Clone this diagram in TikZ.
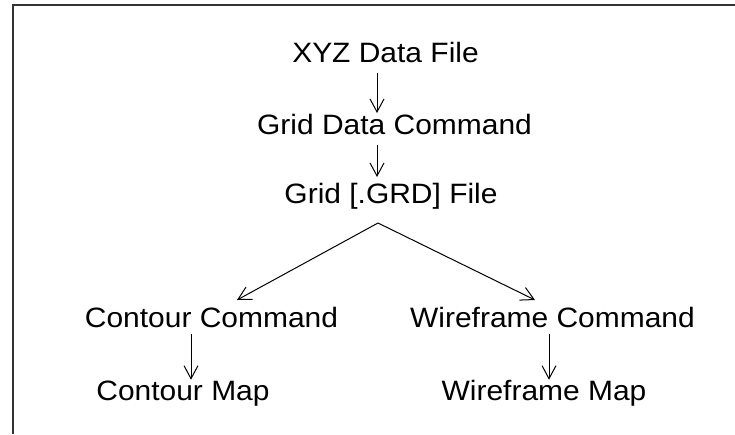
\documentclass[tikz,border=0pt]{standalone}
\usepackage{fontspec}
\setmainfont{Liberation Sans}[FakeStretch=1.07]
\usetikzlibrary{arrows.meta}
\begin{document}
\begin{tikzpicture}[x=1pt,y=-1pt,
  lbl/.style={font=\fontsize{28}{32}\selectfont, anchor=base, inner sep=1pt, outer sep=0pt,
              text height=20pt, text depth=6pt},
  arr/.style={line width=1pt, -{Straight Barb[length=13pt,width=14pt,line width=1pt]}},
  frame/.style={line width=2pt, draw=black!80}]
\useasboundingbox (0,0) rectangle (735,434);
\fill[white] (0,0) rectangle (735,434);
\draw[frame] (13,434) -- (13,5) -- (735,5);

\node[lbl] (xyz) at (385.5,62) {XYZ Data File};
\node[lbl] (gdc) at (394.5,134) {Grid Data Command};
\node[lbl] (grd) at (391,203) {Grid [.GRD] File};
\node[lbl] (cc) at (211.5,327) {Contour Command};
\node[lbl] (wc) at (552.5,327) {Wireframe Command};
\node[lbl] (cm) at (183,400.7) {Contour Map};
\node[lbl] (wm) at (544,400.7) {Wireframe Map};

\coordinate (ax) at (377,0);
\coordinate (cx) at (191,0);
\coordinate (wx) at (549,0);
\coordinate (split) at (378,223);
\coordinate (cend) at (237,300);
\coordinate (wend) at (535,300);

\draw[arr, shorten <=4pt] (xyz.south -| ax) -- (gdc.north -| ax);
\draw[arr, shorten <=4pt, shorten >=5pt] (gdc.south -| ax) -- (grd.north -| ax);
\draw[arr] (split) -- (cend);
\draw[arr] (split) -- (wend);
\draw[arr] (cc.south -| cx) -- (cm.north -| cx);
\draw[arr] (wc.south -| wx) -- (wm.north -| wx);
\end{tikzpicture}
\end{document}
